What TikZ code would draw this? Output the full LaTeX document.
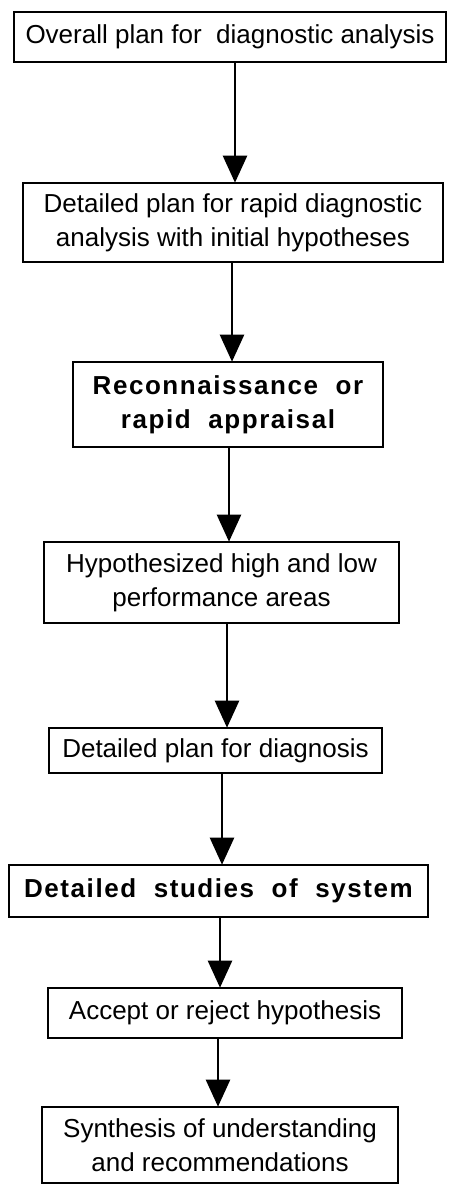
\documentclass[tikz,border=0pt]{standalone}
\usepackage{fontspec}
\setmainfont{Liberation Sans}
\usetikzlibrary{arrows.meta}

\tikzset{
  stepbox/.style={draw, line width=2.6pt, inner sep=0pt, align=center,
    font=\fontsize{26}{34}\selectfont},
  boldbox/.style={stepbox, font=\fontsize{26}{34}\selectfont\bfseries\addfontfeatures{LetterSpace=6}},
  flow/.style={line width=2.4pt, -{Triangle[width=24pt,length=27pt]}, shorten >=-1pt}
}

\begin{document}
\begin{tikzpicture}[x=1pt, y=-1pt]
  \useasboundingbox (0,0) rectangle (451,1186);

  % process boxes, top to bottom
  \node[stepbox, minimum width=432pt, minimum height=50pt] (b1) at (230,37)
    {Overall plan for\ \ diagnostic analysis};
  \node[stepbox, minimum width=420pt, minimum height=79pt] (b2) at (233,222.5)
    {Detailed plan for rapid diagnostic\\analysis with initial hypotheses};
  \node[boldbox, minimum width=310pt, minimum height=85pt] (b3) at (228,404.5)
    {Reconnaissance\ \ or\\rapid\ \ appraisal};
  \node[stepbox, minimum width=355pt, minimum height=81pt] (b4) at (221.5,582.5)
    {Hypothesized high and low\\performance areas};
  \node[stepbox, minimum width=333pt, minimum height=45pt] (b5) at (215.5,750.5)
    {Detailed plan for diagnosis};
  \node[boldbox, minimum width=419pt, minimum height=52pt] (b6) at (218.5,891)
    {Detailed\ \ studies\ \ of\ \ system};
  \node[stepbox, minimum width=354pt, minimum height=50pt] (b7) at (225,1013)
    {Accept or reject hypothesis};
  \node[stepbox, minimum width=356pt, minimum height=76pt] (b8) at (220,1145)
    {Synthesis of understanding\\and recommendations};

  % horizontal positions of the connecting arrows
  \coordinate (a1) at (235,0);
  \coordinate (a2) at (232,0);
  \coordinate (a3) at (229,0);
  \coordinate (a4) at (227,0);
  \coordinate (a5) at (222,0);
  \coordinate (a6) at (220,0);
  \coordinate (a7) at (218,0);

  \draw[flow] (b1.south -| a1) -- (b2.north -| a1);
  \draw[flow] (b2.south -| a2) -- (b3.north -| a2);
  \draw[flow] (b3.south -| a3) -- (b4.north -| a3);
  \draw[flow] (b4.south -| a4) -- (b5.north -| a4);
  \draw[flow] (b5.south -| a5) -- (b6.north -| a5);
  \draw[flow] (b6.south -| a6) -- (b7.north -| a6);
  \draw[flow] (b7.south -| a7) -- (b8.north -| a7);
\end{tikzpicture}
\end{document}
